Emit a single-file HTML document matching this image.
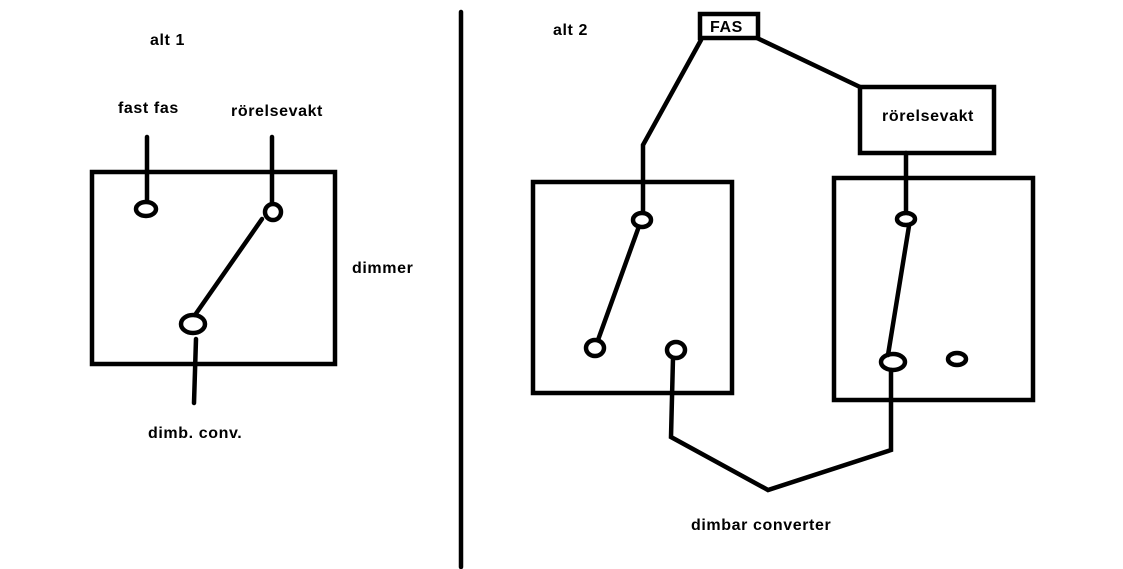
<!DOCTYPE html>
<html><head><meta charset="utf-8"><style>
html,body{margin:0;padding:0;background:#fff;}
svg{display:block;}
text{font-family:"Liberation Sans",sans-serif;font-weight:bold;font-size:16px;letter-spacing:0.6px;fill:#000;}
</style></head><body>
<svg width="1123" height="569" viewBox="0 0 1123 569" xmlns="http://www.w3.org/2000/svg">
<g fill="none" stroke="#000" stroke-width="4.5" stroke-linecap="round">
<line x1="461" y1="12" x2="461" y2="567"/>
<rect x="92" y="172" width="243" height="192"/>
<line x1="147" y1="137" x2="147" y2="201"/>
<ellipse cx="146" cy="209" rx="10" ry="7"/>
<line x1="272" y1="137" x2="272" y2="203"/>
<ellipse cx="273" cy="212" rx="8" ry="8"/>
<line x1="262" y1="219" x2="195" y2="315"/>
<ellipse cx="193" cy="324" rx="12" ry="9"/>
<line x1="196" y1="339" x2="194" y2="403"/>
<rect x="700" y="14" width="58" height="24"/>
<polyline points="701,40 643,145 643,212"/>
<line x1="757" y1="38" x2="860" y2="87"/>
<rect x="860" y="87" width="134" height="66"/>
<rect x="533" y="182" width="199" height="211"/>
<ellipse cx="642" cy="220" rx="9" ry="7"/>
<line x1="638" y1="229" x2="598" y2="340"/>
<ellipse cx="595" cy="348" rx="9" ry="8"/>
<ellipse cx="676" cy="350" rx="9" ry="8"/>
<polyline points="673,358 671,437 768,490 891,450 891,370"/>
<rect x="834" y="178" width="199" height="222"/>
<line x1="906" y1="153" x2="906" y2="212"/>
<ellipse cx="906" cy="219" rx="9" ry="6"/>
<line x1="909" y1="226" x2="888" y2="355"/>
<ellipse cx="893" cy="362" rx="12" ry="8"/>
<ellipse cx="957" cy="359" rx="9" ry="6"/>
</g>
<text x="150" y="45">alt 1</text>
<text x="118" y="113">fast fas</text>
<text x="231" y="116">rörelsevakt</text>
<text x="352" y="273">dimmer</text>
<text x="148" y="438">dimb. conv.</text>
<text x="553" y="35">alt 2</text>
<text x="710" y="32">FAS</text>
<text x="882" y="121">rörelsevakt</text>
<text x="691" y="530">dimbar converter</text>
</svg>
</body></html>
